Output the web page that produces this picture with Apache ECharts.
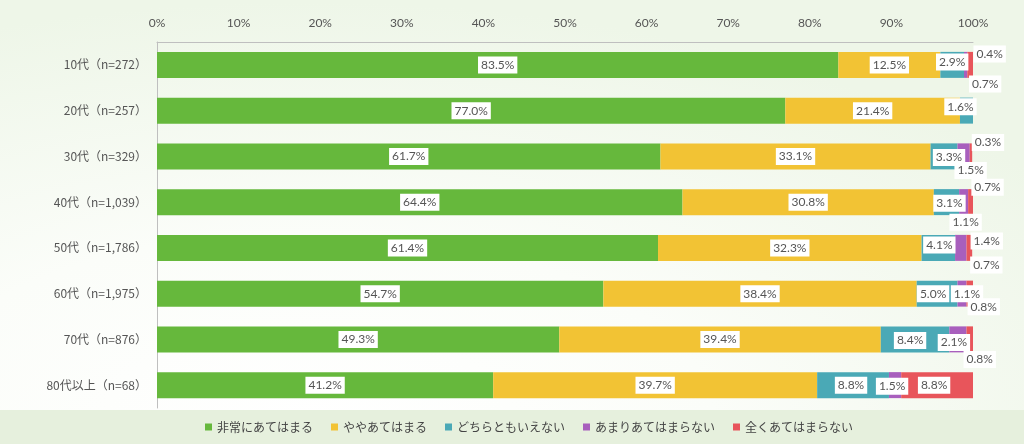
<!DOCTYPE html>
<html>
<head>
<meta charset="utf-8">
<script src="https://cdn.jsdelivr.net/npm/echarts@6/dist/echarts.min.js"></script>
<style>
  html, body { margin: 0; padding: 0; }
  body {
    width: 1024px; height: 444px; position: relative; overflow: hidden;
    background: radial-gradient(ellipse 900px 420px at 30% 95%, #ffffff 0%, #fbfdf9 45%, #eef6e8 100%);
  }
  #band { position: absolute; left: 0; top: 410px; width: 1024px; height: 34px; background: #e6f0dd; }
  #chart { position: absolute; left: 0; top: 0; width: 1024px; height: 444px; }
</style>
</head>
<body>
<div id="band"></div>
<div id="chart"></div>
<script>
// 年代別の回答割合（%）
var categories = ['10代（n=272）', '20代（n=257）', '30代（n=329）', '40代（n=1,039）',
                  '50代（n=1,786）', '60代（n=1,975）', '70代（n=876）', '80代以上（n=68）'];
var seriesNames = ['非常にあてはまる', 'ややあてはまる', 'どちらともいえない', 'あまりあてはまらない', '全くあてはまらない'];
var veryTrue   = [83.5, 77.0, 61.7, 64.4, 61.4, 54.7, 49.3, 41.2];
var someTrue   = [12.5, 21.4, 33.1, 30.8, 32.3, 38.4, 39.4, 39.7];
var neutral    = [2.9, 1.6, 3.3, 3.1, 4.1, 5.0, 8.4, 8.8];
var notMuch    = [0.4, 0, 1.5, 1.1, 1.4, 1.1, 2.1, 1.5];
var notAtAll   = [0.7, 0, 0.3, 0.7, 0.7, 0.8, 0.8, 8.8];
var tickLabels = ['0%', '10%', '20%', '30%', '40%', '50%', '60%', '70%', '80%', '90%', '100%'];

var colors = ['#66b83c', '#f2c334', '#4aa9b6', '#a85fbd', '#e8555b'];

// label nudges for the narrow segments (px)
var labelOffsets = [
  null,
  null,
  [[0,-3],[-6,-4],[5,1],[3,1],[1,-3],[-4,0],[-5,1],[-2,0]],
  [[24,-11],null,[7,14],[2,20],[26,-7],[5,0],[-4,3],[-3,1]],
  [[15,19],null,[17,-14],[17,-15],[17,17],[14,13],[10,20],[-3,0]]
];

var values = [veryTrue, someTrue, neutral, notMuch, notAtAll];

var chart = echarts.init(document.getElementById('chart'));

var series = seriesNames.map(function (name, si) {
  return {
    name: name,
    type: 'bar',
    stack: 'total',
    barWidth: 26,
    itemStyle: { color: colors[si] },
    label: {
      show: true,
      position: 'inside',
      color: '#555',
      fontSize: 12,
      fontFamily: 'Lato, "Noto Sans", sans-serif',
      backgroundColor: '#fff',
      padding: [3, 3, 2, 3],
      formatter: function (p) { return p.value.toFixed(1) + '%'; }
    },
    data: values[si].map(function (v, i) {
      var item = { value: v };
      if (v === 0) item.label = { show: false };
      var offs = labelOffsets[si];
      if (offs && offs[i]) item.label = Object.assign(item.label || {}, { offset: offs[i] });
      return item;
    })
  };
});

chart.setOption({
  animation: false,
  color: colors,
  grid: { left: 157, right: 51, top: 42, bottom: 36 },
  xAxis: {
    type: 'value',
    position: 'top',
    min: 0, max: 100, interval: 10,
    axisLine: { show: true, lineStyle: { color: '#bfbfbf' } },
    axisTick: { show: false },
    splitLine: { show: false },
    axisLabel: {
      color: '#555', fontSize: 12, margin: 13,
      fontFamily: 'Lato, "Noto Sans", sans-serif',
      formatter: function (v) { return tickLabels[Math.round(v / 10)]; }
    }
  },
  yAxis: {
    type: 'category',
    inverse: true,
    data: categories,
    axisLine: { show: true, lineStyle: { color: '#bfbfbf' } },
    axisTick: { show: false },
    axisLabel: { color: '#555', fontSize: 12, margin: 10, fontFamily: '"Noto Sans CJK JP", sans-serif' }
  },
  legend: {
    bottom: 6,
    left: 200,
    icon: 'rect',
    itemWidth: 7,
    itemHeight: 7,
    itemGap: 18,
    textStyle: { color: '#444', fontSize: 12, fontFamily: '"Noto Sans CJK JP", sans-serif' },
    data: seriesNames
  },
  series: series
});
</script>
</body>
</html>
